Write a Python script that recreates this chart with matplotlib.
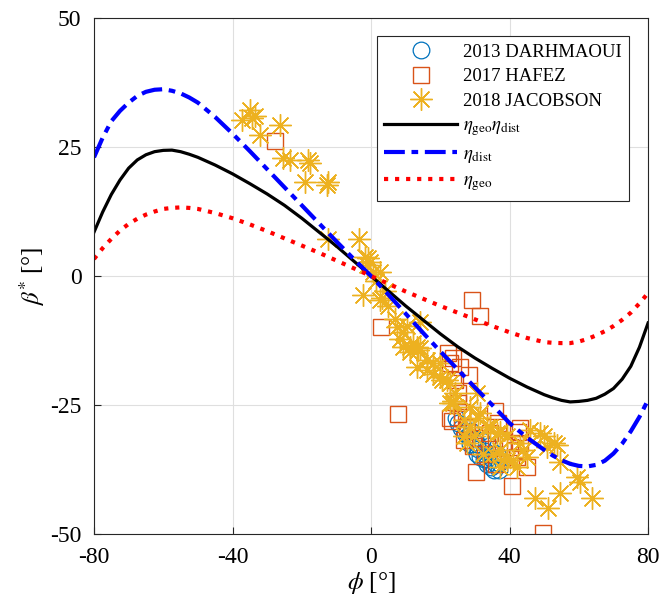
import numpy as np
import matplotlib
matplotlib.use("Agg")
import matplotlib.pyplot as plt

plt.rcParams['font.family'] = ['Liberation Serif', 'DejaVu Serif']
plt.rcParams['mathtext.fontset'] = 'stix'
plt.rcParams['axes.unicode_minus'] = False

# model curves (finer steps near the extrema)
phi_line = [-80, -77.5, -75, -72.5, -70, -67.5, -65, -62.5, -60, -57.5, -55, -52.5, -50,
            -45, -40, -35, -30, -25, -20, -15, -10, -5, 0, 5, 10, 15, 20, 25, 30, 35, 40, 45,
            50, 52.5, 55, 57.5, 60, 62.5, 65, 67.5, 70, 72.5, 75, 77.5, 80]
eta_geo_dist = [8.5, 12.4, 15.8, 18.6, 20.9, 22.5, 23.5, 24.1, 24.35, 24.4, 24.1, 23.6, 23.0,
                21.5, 19.8, 17.9, 15.9, 13.7, 11.2, 8.5, 5.8, 2.9,
                0.0,
                -2.9, -5.8, -8.5, -11.2, -13.7, -15.9, -17.9, -19.8, -21.5,
                -23.0, -23.6, -24.1, -24.4, -24.3, -24.1, -23.7, -22.9, -21.8, -20.0, -17.5, -13.8, -9.1]
eta_dist = [23.0, 26.8, 30.0, 32.0, 33.6, 34.9, 35.7, 36.1, 36.2, 35.9, 35.4, 34.6, 33.6,
            30.8, 27.6, 24.2, 20.7, 17.2, 13.7, 10.2, 6.7, 3.3,
            0.0,
            -3.6, -7.3, -11.0, -14.6, -18.1, -21.6, -25.0, -28.5, -31.3,
            -33.7, -34.8, -35.7, -36.4, -36.8, -36.9, -36.6, -35.8, -34.4, -32.5, -30.1, -27.3, -24.0]
eta_geo = [3.3, 5.4, 7.2, 8.8, 10.1, 11.1, 11.9, 12.5, 13.0, 13.2, 13.3, 13.2, 13.0,
           12.2, 11.2, 10.0, 8.7, 7.3, 5.9, 4.5, 3.0, 1.5,
           0.0,
           -1.5, -3.0, -4.4, -5.8, -7.1, -8.4, -9.7, -10.9, -12.0,
           -12.8, -12.95, -13.0, -13.0, -12.7, -12.2, -11.5, -10.7, -9.7, -8.5, -7.1, -5.3, -3.3]

# 2013 DARHMAOUI
darh_phi = [24.5, 25.0, 26.0, 27.0, 28.0, 28.5, 29.0, 29.5, 30.0, 30.5, 31.0, 31.5, 32.0, 32.5, 33.0,
            33.5, 33.5, 34.0, 34.5, 35.0, 35.0, 35.5, 36.0, 36.5, 37.0, 37.0, 30.5]
darh_beta = [-27.5, -28.5, -29.5, -30.5, -31.0, -32.5, -30.0, -33.0, -31.5, -34.5, -33.5, -35.0, -32.0, -35.5, -34.0,
             -36.5, -35.5, -33.0, -37.0, -35.5, -36.5, -37.5, -36.5, -34.5, -37.5, -36.2, -32.5]

# 2017 HAFEZ
hafez_phi = [-27.7, 2.9, 7.9, 29.2, 31.5, 22.3, 23.7, 22.8, 25.7, 28.4, 24.3, 25.2, 25.2, 26.2, 22.8,
             23.3, 26.2, 27.6, 26.7, 31.5, 34.4, 35.8, 36.8, 38.1, 40.1, 41.6, 42.5, 43.0, 43.0, 42.1,
             45.0, 30.3, 40.6, 49.7, 29.5, 33.0, 36.0]
hafez_beta = [26.2, -9.9, -26.7, -4.7, -7.8, -15.0, -15.9, -16.9, -17.6, -19.2, -20.2, -22.7, -24.6, -26.3, -27.5,
              -28.1, -27.3, -29.2, -31.8, -31.4, -30.4, -26.2, -28.5, -32.1, -33.1, -33.7, -30.2, -29.5, -32.4, -35.0,
              -37.0, -38.0, -40.7, -49.8, -33.0, -34.5, -36.5]

# 2018 JACOBSON
jac_phi = [-35.0, -34.5, -37.3, -33.5, -32.0, -26.3, -25.3, -23.4, -18.1, -17.5, -19.0, -12.8, -12.5, -12.4,
           -3.4, -1.7, -0.8, -0.3, -1.2, 0.5, -2.2, 2.6, 2.6, 5.0, 3.1, 6.9, 10.3, 14.2, 9.2, 4.0, 1.5,
           8.4, 12.2, 14.2, 11.3, 13.2, 16.1, 18.0, 19.9, 21.9, 22.8, 19.9, 24.3, 30.5, 7.4, 11.3, 13.2,
           16.1, 23.8, 28.6, 13.7, 18.0, 31.5, 9.3, 20.4, 23.8, 28.6, 34.4, 37.3, 39.2, 43.0, 45.9, 49.8,
           53.6, 50.8, 54.6, 59.4, 60.4, 47.4, 51.2, 54.6, 63.7, 41.1, 45.0, 35.3, 42.1, 26.7, 27.6, 37.3,
           39.2, 37.3, 22.8, 48.8, 52.7, 38.2, 44.0, 36.3, 33.4, 32.4, 29.6, 26.7, 31.0]
jac_beta = [32.2, 30.6, 30.2, 31.0, 27.3, 29.3, 22.8, 22.5, 22.5, 22.0, 18.3, 17.6, 18.3, 7.2,
            7.2, 3.7, 3.4, 2.8, 2.1, 0.8, -3.7, 0.8, -4.7, -5.8, -4.3, -8.3, -9.7, -8.9, -10.9, -3.0, -1.0,
            -12.2, -13.0, -14.0, -14.7, -17.6, -16.3, -18.9, -19.5, -20.2, -20.8, -16.9, -22.7, -22.7, -9.8, -13.7, -13.7,
            -18.2, -24.2, -25.3, -14.3, -16.9, -26.6, -13.7, -20.2, -24.7, -29.2, -29.2, -30.2, -31.1, -32.4, -29.8, -31.1,
            -32.8, -33.1, -36.0, -38.9, -39.9, -43.1, -45.0, -42.0, -43.1, -35.7, -35.0, -34.4, -37.0, -31.1, -32.4, -33.7,
            -35.7, -37.0, -24.7, -30.5, -32.4, -35.7, -33.7, -30.5, -29.2, -34.4, -31.1, -27.9, -27.5]

fig = plt.figure(figsize=(6.62, 6.11), dpi=100)
ax = fig.add_axes([0.142, 0.126, 0.837, 0.8445])

ax.plot(darh_phi, darh_beta, 'o', ms=12, mfc='none', mec='#0072BD', mew=0.9, label='2013 DARHMAOUI')
ax.plot(hafez_phi, hafez_beta, 's', ms=11, mfc='none', mec='#D95319', mew=1.0, label='2017 HAFEZ')
ax.plot(jac_phi, jac_beta, ls='none', marker=(8, 2, 0), ms=16, mec='#EDB120', mew=1.0, label='2018 JACOBSON')
ax.plot(phi_line, eta_geo_dist, '-', color='black', lw=2.3, label=r'$\eta_{\rm geo}\eta_{\rm dist}$')
ax.plot(phi_line, eta_dist, color='blue', lw=3, dashes=(5, 1.6, 1.6, 1.6), label=r'$\eta_{\rm dist}$')
ax.plot(phi_line, eta_geo, ':', color='red', lw=3, label=r'$\eta_{\rm geo}$')

ax.set_xlim(-80, 80)
ax.set_ylim(-50, 50)
ax.set_xticks([-80, -40, 0, 40, 80])
ax.set_yticks([-50, -25, 0, 25, 50])
ax.grid(True, color='#dfdfdf', lw=0.8)
ax.set_axisbelow(True)
ax.tick_params(direction='in', labelsize=17, length=5, pad=9, colors='#262626', labelcolor='black')
for s in ax.spines.values():
    s.set_color('#262626')
ax.set_xlabel(r'$\phi$ [°]', fontsize=18, labelpad=2)
ax.set_ylabel(r'$\beta^{*}$ [°]', fontsize=18, labelpad=2)

leg = ax.legend(loc='upper right', bbox_to_anchor=(0.966, 0.965), borderaxespad=0, fontsize=13.5,
                handlelength=3.9, fancybox=False, edgecolor='#262626', framealpha=1, borderpad=0.4,
                labelspacing=0.4, handletextpad=0.3)
leg.get_frame().set_linewidth(0.8)

fig.savefig('out.png', dpi=100)
